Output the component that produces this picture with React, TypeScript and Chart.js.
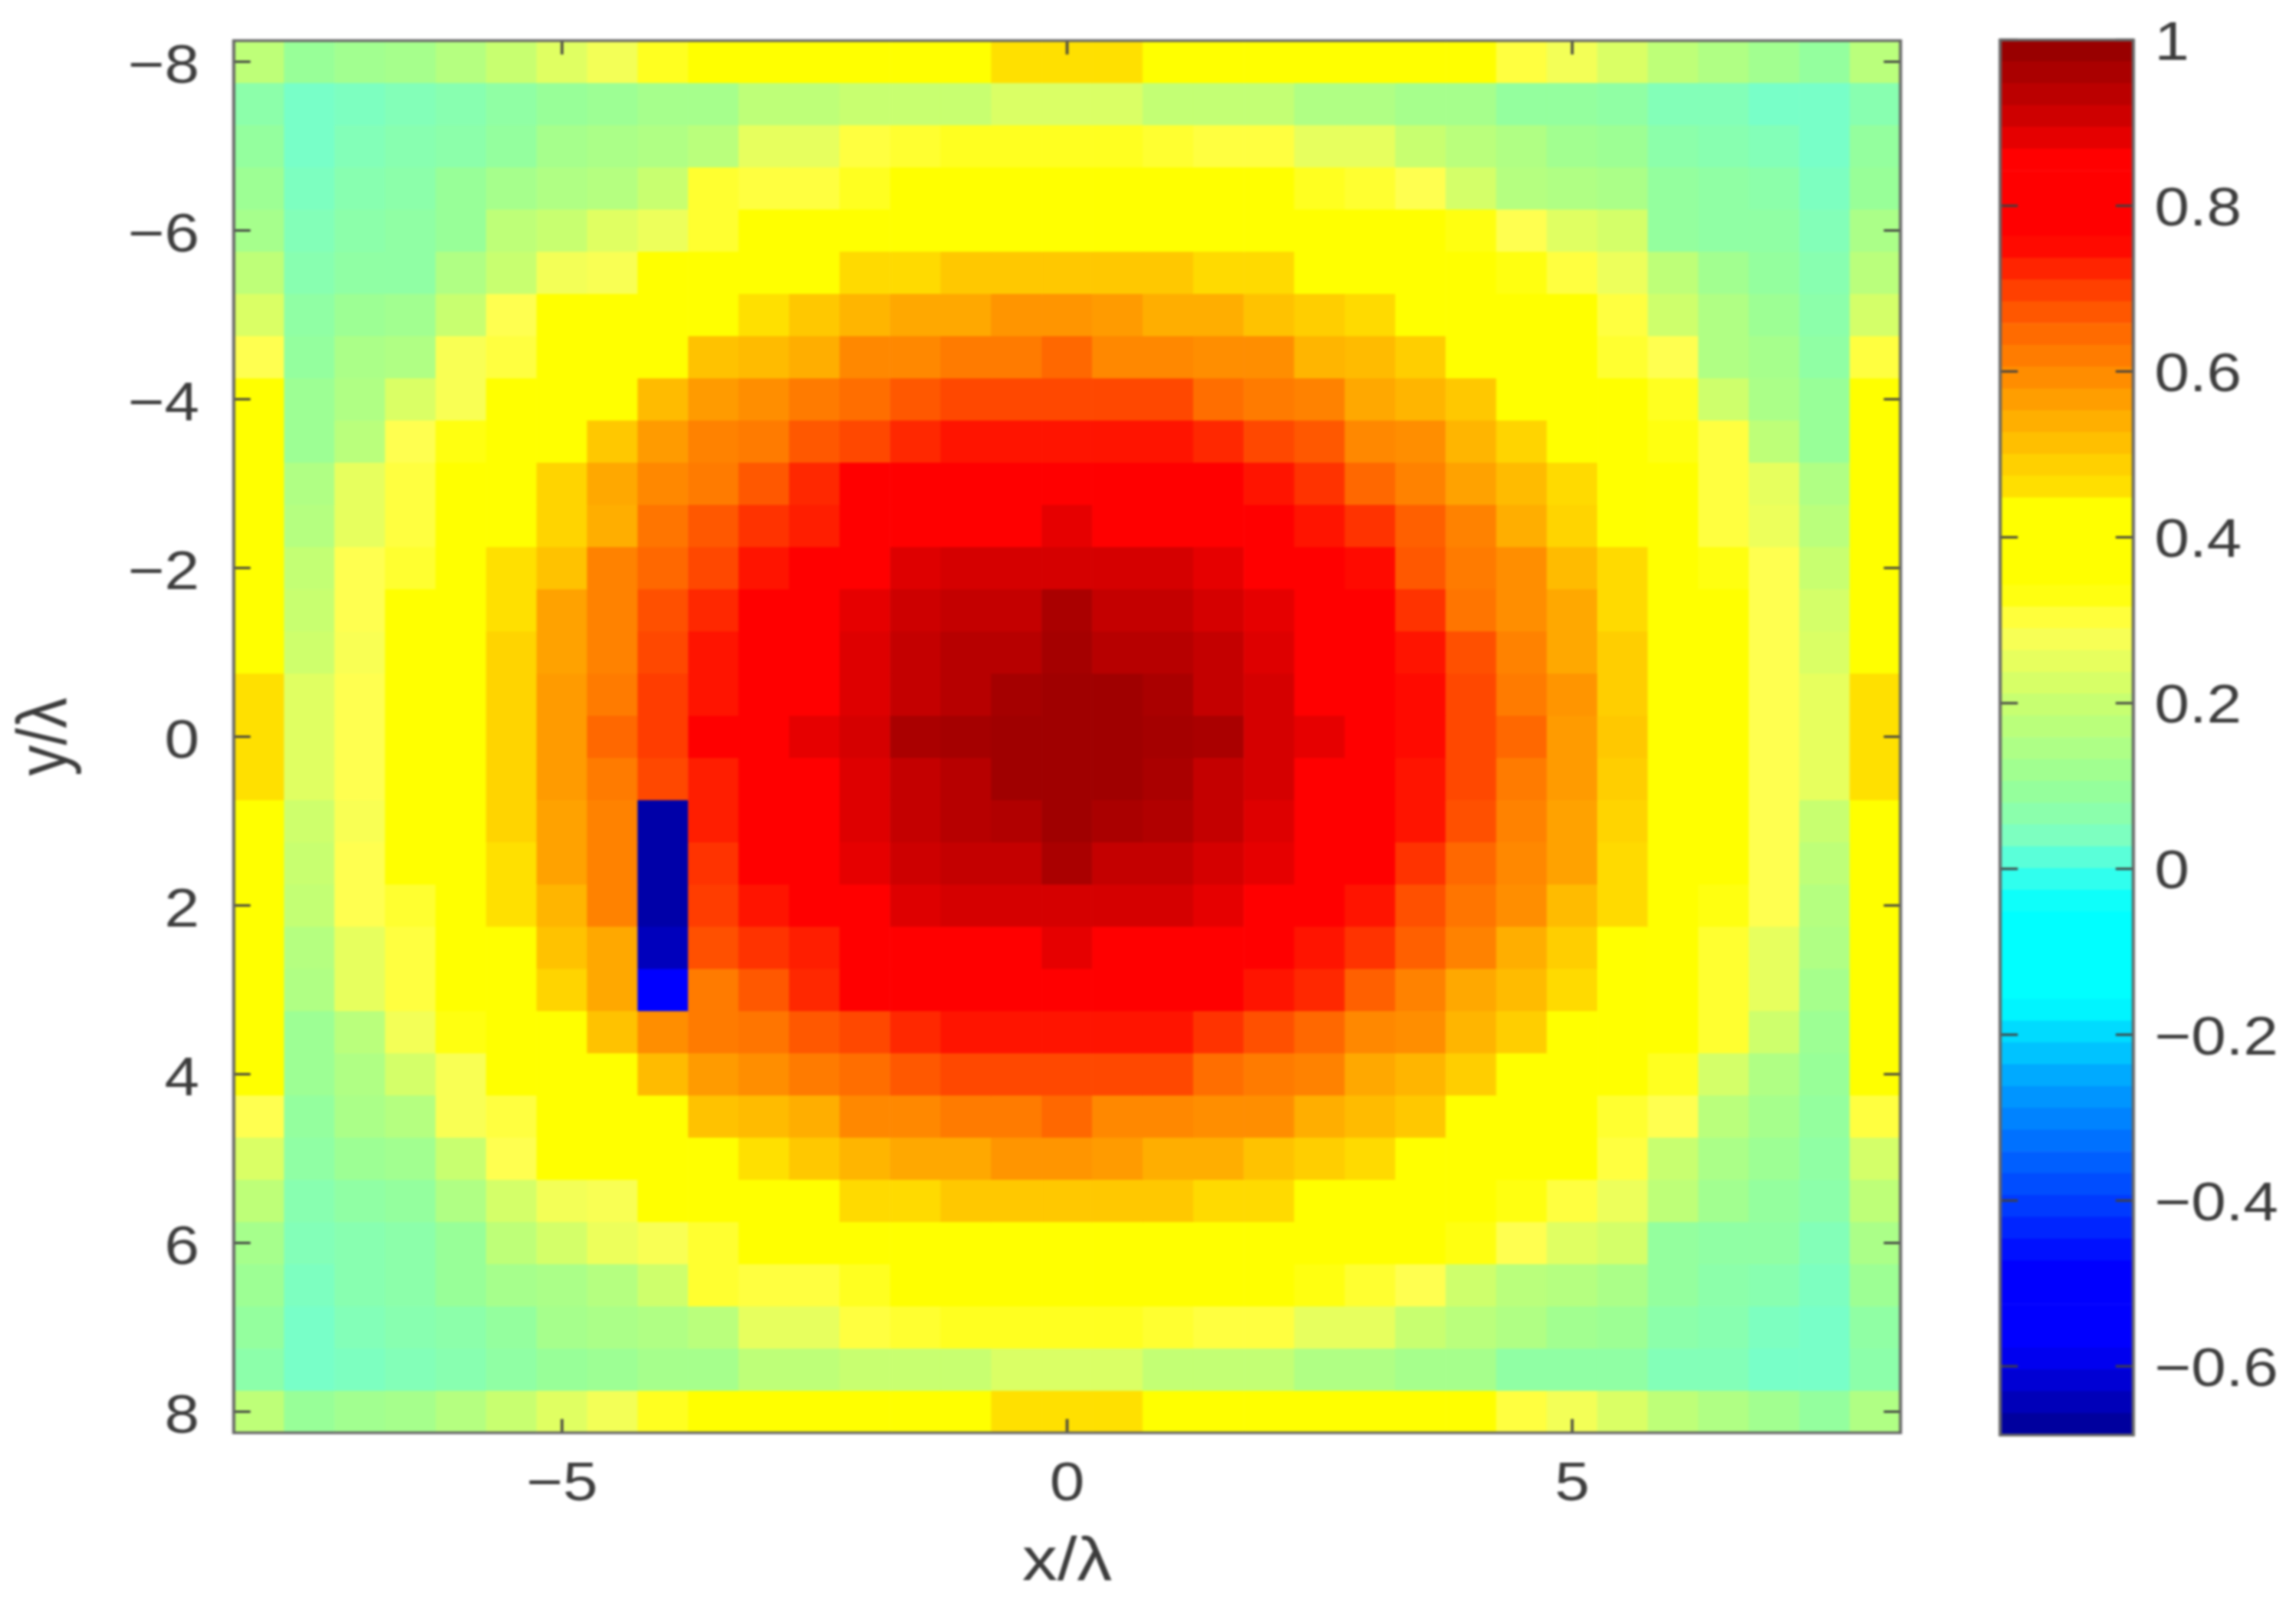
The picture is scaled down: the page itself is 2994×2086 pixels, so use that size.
import React, { useEffect, useRef } from "react";
import { Chart, registerables } from "chart.js";

Chart.register(...registerables);

// Field value x100, one list per row, top (y = -8) to bottom (y = 8).
const row00 = [18,10,12,13,16,20,24,27,32,37,37,37,37,37,37,46,46,46,37,37,37,37,37,37,35,30,27,23,18,15,12,9,17];
const row01 = [7,3,4,5,6,8,10,11,13,13,18,18,20,20,20,23,23,23,19,19,19,15,15,13,13,9,9,8,5,5,3,3,6];
const row02 = [9,3,5,6,7,9,13,14,15,17,25,25,30,31,32,32,32,32,31,30,30,25,25,20,17,15,12,11,7,6,5,3,9];
const row03 = [11,4,6,7,10,13,15,16,20,31,30,30,32,37,37,37,37,37,37,37,34,32,31,29,22,16,15,14,9,8,7,4,10];
const row04 = [13,5,7,8,10,18,20,24,26,31,37,37,38,38,38,38,38,38,38,38,38,38,37,36,33,29,24,22,9,8,8,5,14];
const row05 = [18,6,8,8,15,20,27,28,37,37,37,37,47,47,50,50,50,50,50,47,47,37,37,37,37,33,30,26,18,12,9,6,17];
const row06 = [23,8,11,12,20,29,37,37,37,37,46,50,53,55,55,58,58,57,54,54,51,49,47,37,37,37,35,30,21,15,11,7,22];
const row07 = [29,9,14,15,28,30,37,37,37,51,52,54,60,60,62,62,65,60,60,59,59,53,52,49,37,37,37,31,29,15,13,8,30];
const row08 = [37,11,15,23,28,37,37,37,52,57,59,62,64,67,69,69,69,69,69,64,62,61,55,53,50,37,37,37,32,21,14,10,37];
const row09 = [37,11,17,29,33,37,37,50,57,61,62,67,69,72,74,74,74,74,74,72,69,67,60,59,53,48,37,37,33,30,18,10,37];
const row10 = [37,15,25,30,37,37,48,55,60,62,67,72,76,80,80,80,80,80,80,80,74,71,65,61,56,52,47,37,35,30,25,15,37];
const row11 = [37,16,25,30,37,37,48,54,63,67,71,73,80,80,80,80,88,80,80,80,80,74,71,66,61,54,48,37,36,30,26,17,37];
const row12 = [37,19,29,31,37,46,51,61,65,69,74,80,80,89,90,90,90,90,90,88,80,80,75,67,62,59,52,47,37,33,29,20,37];
const row13 = [37,20,29,37,37,46,56,61,68,72,80,80,88,91,92,92,96,92,92,90,88,80,80,71,63,59,55,47,37,37,29,22,37];
const row14 = [37,21,28,37,37,48,56,61,69,74,80,80,89,92,94,94,97,94,94,92,89,80,80,74,68,61,55,49,37,37,29,23,37];
const row15 = [46,24,29,37,37,48,57,62,70,74,80,80,89,92,94,97,98,98,96,92,90,80,80,75,69,62,58,49,37,37,29,25,46];
const row16 = [46,24,29,37,37,48,57,65,70,76,80,88,90,96,97,98,98,98,97,96,90,88,80,75,69,65,57,50,37,37,29,25,46];
const row17 = [46,24,29,37,37,48,57,62,69,73,80,80,89,92,94,98,98,98,96,92,90,80,80,74,69,62,57,49,37,37,29,25,46];
const row18 = [37,21,28,37,37,48,56,61,-66,73,80,80,89,92,94,95,98,96,95,92,89,80,80,74,68,61,56,48,37,37,29,20,37];
const row19 = [37,20,29,37,37,46,56,61,-66,71,80,80,88,91,92,92,96,92,92,90,88,80,80,71,65,60,56,47,37,37,29,18,37];
const row20 = [37,19,29,31,37,46,53,61,-66,70,74,80,80,89,90,90,90,90,90,88,80,80,74,68,63,59,52,47,37,33,29,16,37];
const row21 = [37,16,25,30,37,37,51,55,-64,68,71,73,80,80,80,80,88,80,80,80,80,74,71,66,61,54,49,37,37,31,25,15,37];
const row22 = [37,15,25,30,37,37,48,55,-53,62,67,72,76,80,80,80,80,80,80,80,74,72,66,61,55,52,47,37,36,31,25,13,37];
const row23 = [37,11,17,27,33,37,37,51,59,62,63,67,69,72,74,74,74,74,74,71,68,65,60,59,53,49,37,37,34,31,21,11,37];
const row24 = [37,11,15,22,28,37,37,37,52,57,59,62,64,67,69,69,69,69,69,64,62,61,55,53,49,37,37,37,32,22,15,10,37];
const row25 = [29,9,14,16,28,30,37,37,37,51,52,54,60,60,62,62,65,60,60,59,59,54,52,50,37,37,37,31,29,17,13,9,30];
const row26 = [23,8,11,12,20,29,36,37,37,37,46,50,53,55,55,58,58,57,54,54,51,49,47,37,37,37,36,30,20,14,11,8,22];
const row27 = [18,6,8,9,15,22,27,28,37,37,37,37,47,47,50,50,50,50,50,47,47,37,37,37,37,33,30,26,18,12,9,7,18];
const row28 = [13,5,6,7,10,18,22,26,28,31,37,37,38,38,38,38,38,38,38,38,38,37,37,36,33,29,24,22,9,8,8,5,14];
const row29 = [11,4,6,7,10,13,14,16,21,31,30,30,32,37,37,37,37,37,37,37,35,33,31,29,21,17,16,14,9,7,6,4,11];
const row30 = [9,3,5,6,7,9,13,14,15,17,25,25,30,31,32,32,32,32,31,30,30,25,25,20,17,15,12,11,7,6,4,3,8];
const row31 = [7,3,4,5,6,8,10,11,13,13,18,18,20,20,20,23,23,23,19,19,19,15,15,13,13,8,8,8,5,5,3,3,7];
const row32 = [18,10,12,13,16,20,24,27,32,37,37,37,37,37,37,46,46,46,37,37,37,37,37,37,35,30,27,23,18,15,12,9,15];
const fieldRows = [row00,row01,row02,row03,row04,row05,row06,row07,row08,row09,row10,row11,row12,row13,row14,row15,row16,row17,row18,row19,row20,row21,row22,row23,row24,row25,row26,row27,row28,row29,row30,row31,row32];

const cellCentres = [-8,-7.5,-7,-6.5,-6,-5.5,-5,-4.5,-4,-3.5,-3,-2.5,-2,-1.5,-1,-0.5,0,0.5,1,1.5,2,2.5,3,3.5,4,4.5,5,5.5,6,6.5,7,7.5,8];
const xTicks = [-5, 0, 5];
const yTicks = [-8, -6, -4, -2, 0, 2, 4, 6, 8];
const colorTicks = [-0.6, -0.4, -0.2, 0, 0.2, 0.4, 0.6, 0.8, 1];

const colorStopValues = [-0.683,-0.575,-0.48,-0.4,-0.33,-0.26,-0.2,-0.16,-0.05,0,0.03,0.06,0.1,0.2,0.29,0.34,0.44,0.445,0.46,0.5,0.55,0.6,0.65,0.69,0.72,0.76,0.865,0.88,0.92,0.96,0.98,1];
const colorStopHex = ["#000090","#0000ff","#0000ff","#0040ff","#0070ff","#00a0ff","#00d8ff","#00ffff","#00ffff","#40ffe8","#78ffc8","#88ffb0","#98ff98","#c8ff70","#ffff50","#ffff00","#ffff00","#ffe800","#ffe000","#ffc800","#ffa800","#ff8800","#ff6800","#ff4800","#ff2800","#ff0000","#ff0000","#e60000","#c40000","#aa0000","#a00000","#8c0000"];

const COLOR_MIN = -0.683;
const COLOR_MAX = 1;
const COLOR_LEVELS = 64;
const STRETCH = 1.15;
const FONT = "'Liberation Sans', Arial, sans-serif";
const TEXT = "#3c3c3c";
const FRAME = "#666666";

function hexToRgb(h: string) {
  return [1, 3, 5].map((i) => parseInt(h.slice(i, i + 2), 16));
}
function rampColor(v: number) {
  const n = colorStopValues.length;
  if (v <= colorStopValues[0]) return colorStopHex[0];
  if (v >= colorStopValues[n - 1]) return colorStopHex[n - 1];
  let i = 0;
  while (v > colorStopValues[i + 1]) i++;
  const t = (v - colorStopValues[i]) / (colorStopValues[i + 1] - colorStopValues[i]);
  const a = hexToRgb(colorStopHex[i]);
  const b = hexToRgb(colorStopHex[i + 1]);
  return `rgb(${a.map((c, k) => Math.round(c + (b[k] - c) * t)).join(",")})`;
}
function levelCentre(level: number) {
  return COLOR_MIN + ((level + 0.5) / COLOR_LEVELS) * (COLOR_MAX - COLOR_MIN);
}
function tickText(v: number | string) {
  const n = Number(v);
  const s = Math.abs(n) < 1e-9 ? "0" : String(Math.round(Math.abs(n) * 10) / 10);
  return (n < -1e-9 ? "\u2212" : "") + s;
}

const frameTicks = (xLen: number, yLen: number) => ({
  id: "frameTicks",
  afterDatasetsDraw(chart: any) {
    const { ctx, chartArea: a, scales } = chart;
    ctx.save();
    ctx.strokeStyle = "#404040";
    ctx.lineWidth = 3;
    ctx.beginPath();
    if (scales.x.options.display !== false) {
      for (const t of scales.x.ticks) {
        const p = scales.x.getPixelForValue(t.value);
        ctx.moveTo(p, a.bottom); ctx.lineTo(p, a.bottom - xLen);
        ctx.moveTo(p, a.top); ctx.lineTo(p, a.top + xLen);
      }
    }
    for (const t of scales.y.ticks) {
      const p = scales.y.getPixelForValue(t.value);
      ctx.moveTo(a.left, p); ctx.lineTo(a.left + yLen, p);
      ctx.moveTo(a.right, p); ctx.lineTo(a.right - yLen, p);
    }
    ctx.stroke();
    ctx.strokeStyle = FRAME;
    ctx.lineWidth = 3.5;
    ctx.strokeRect(a.left, a.top, a.right - a.left, a.bottom - a.top);
    ctx.restore();
  },
});

export default function App() {
  const mainRef = useRef<HTMLCanvasElement>(null);
  const barRef = useRef<HTMLCanvasElement>(null);

  useEffect(() => {
    const tickFont = { family: FONT, size: 71 };
    const titleFont = { family: FONT, size: 80 };
    const main = new Chart(mainRef.current as HTMLCanvasElement, {
      type: "bar",
      data: {
        datasets: fieldRows.map((row, r) => ({
          label: `y=${cellCentres[r]}`,
          data: row.map((_, c) => ({ x: cellCentres[c], y: [cellCentres[r] - 0.25, cellCentres[r] + 0.25] })),
          backgroundColor: row.map((v) => rampColor(v / 100)),
          borderWidth: 0,
          barPercentage: 1,
          categoryPercentage: 1,
          grouped: false,
        })) as any,
      },
      options: {
        responsive: false,
        animation: false,
        devicePixelRatio: 1,
        layout: { padding: { top: 53, right: 85, left: 0, bottom: 0 } },
        plugins: { legend: { display: false }, tooltip: { enabled: false } },
        scales: {
          x: {
            type: "linear",
            min: -8.25,
            max: 8.25,
            offset: false,
            grid: { display: false, drawTicks: false },
            border: { display: false },
            afterBuildTicks: (s: any) => { s.ticks = xTicks.map((value) => ({ value })); },
            afterFit: (s: any) => { s.height = 218; s.paddingLeft = 0; s.paddingRight = 0; },
            ticks: { callback: tickText, font: tickFont, color: TEXT, padding: 26, maxRotation: 0, autoSkip: false },
            title: { display: true, text: "x/\u03bb", font: titleFont, color: TEXT, padding: { top: 0, bottom: 0 } },
          },
          y: {
            type: "linear",
            min: -8.25,
            max: 8.25,
            reverse: true,
            grid: { display: false, drawTicks: false },
            border: { display: false },
            afterBuildTicks: (s: any) => { s.ticks = yTicks.map((value) => ({ value })); },
            afterFit: (s: any) => { s.width = 265; s.paddingTop = 0; s.paddingBottom = 0; },
            ticks: { callback: tickText, font: tickFont, color: TEXT, padding: 39, labelOffset: 8, autoSkip: false },
            title: { display: true, text: "y/\u03bb", font: titleFont, color: TEXT, padding: { top: 5, bottom: 0 } },
          },
        },
      } as any,
      plugins: [frameTicks(18, 19)],
    });

    const levels = Array.from({ length: COLOR_LEVELS }, (_, i) => i);
    const bar = new Chart(barRef.current as HTMLCanvasElement, {
      type: "bar",
      data: {
        labels: ["colour"],
        datasets: levels.map((i) => ({
          label: `level ${i}`,
          data: [[
            COLOR_MIN + (i / COLOR_LEVELS) * (COLOR_MAX - COLOR_MIN),
            COLOR_MIN + ((i + 1) / COLOR_LEVELS) * (COLOR_MAX - COLOR_MIN),
          ]],
          backgroundColor: rampColor(levelCentre(i)),
          borderWidth: 0,
          barPercentage: 1,
          categoryPercentage: 1,
          grouped: false,
        })) as any,
      },
      options: {
        responsive: false,
        animation: false,
        devicePixelRatio: 1,
        layout: { padding: { top: 52, left: 28, right: 0, bottom: 215 } },
        plugins: { legend: { display: false }, tooltip: { enabled: false } },
        scales: {
          x: { display: false },
          y: {
            type: "linear",
            position: "right",
            min: COLOR_MIN,
            max: COLOR_MAX,
            grid: { display: false, drawTicks: false },
            border: { display: false },
            afterBuildTicks: (s: any) => { s.ticks = colorTicks.map((value) => ({ value })); },
            afterFit: (s: any) => { s.width = 184; s.paddingTop = 0; s.paddingBottom = 0; },
            ticks: { callback: tickText, font: tickFont, color: TEXT, padding: 24, labelOffset: 6, autoSkip: false },
          },
        },
      } as any,
      plugins: [frameTicks(0, 20)],
    });

    return () => {
      main.destroy();
      bar.destroy();
    };
  }, []);

  return (
    <div style={{ position: "fixed", left: 0, top: 0, width: 2994, height: 2086, overflow: "hidden", background: "#fff" }}>
      <div
        style={{
          position: "absolute",
          left: 0,
          top: 0,
          width: 2603.5,
          height: 2086,
          transform: `scaleX(${STRETCH})`,
          transformOrigin: "0 0",
          filter: "blur(1.6px)",
        }}
      >
        <canvas ref={mainRef} width={2240} height={2086} style={{ position: "absolute", left: 0, top: 0 }} />
        <canvas ref={barRef} width={363} height={2086} style={{ position: "absolute", left: 2240, top: 0 }} />
      </div>
    </div>
  );
}
